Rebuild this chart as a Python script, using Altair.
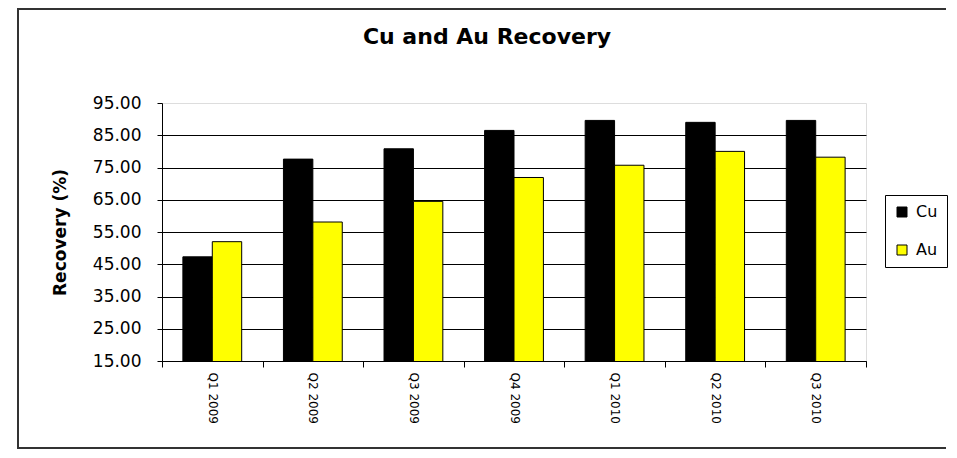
import altair as alt
import pandas as pd

quarters = ["Q1 2009", "Q2 2009", "Q3 2009", "Q4 2009", "Q1 2010", "Q2 2010", "Q3 2010"]
cu_values = [47.3, 77.6, 80.8, 86.5, 89.6, 89.0, 89.6]
au_values = [52.0, 58.1, 64.5, 71.9, 75.7, 80.0, 78.2]
series = ["Cu", "Au"]
series_colors = ["#000000", "#FFFF00"]
y_ticks = [15, 25, 35, 45, 55, 65, 75, 85, 95]

rows = []
for q, c, a in zip(quarters, cu_values, au_values):
    rows.append({"quarter": q, "metal": "Cu", "recovery": c})
    rows.append({"quarter": q, "metal": "Au", "recovery": a})
df = pd.DataFrame(rows)

FONT = "DejaVu Sans"
W, H = 704, 258

bars = alt.Chart(df).mark_bar(stroke="black", strokeWidth=1, clip=True).encode(
    x=alt.X(
        "quarter:N",
        sort=quarters,
        scale=alt.Scale(paddingInner=0, paddingOuter=0),
        axis=alt.Axis(
            title=None, labelAngle=90, labelFont=FONT, labelFontSize=12,
            labelColor="black", tickBand="extent", tickSize=6, tickColor="black",
            domainColor="black", labelPadding=5, grid=False,
        ),
    ),
    xOffset=alt.XOffset("metal:N", sort=series,
                        scale=alt.Scale(paddingInner=0, paddingOuter=0.71)),
    y=alt.Y(
        "recovery:Q",
        scale=alt.Scale(domain=[15, 95], nice=False, zero=False),
        axis=alt.Axis(
            title="Recovery (%)", values=y_ticks, format=".2f",
            labelFont=FONT, labelFontSize=17, labelColor="black",
            tickSize=5, tickColor="black", domainColor="black", labelPadding=16,
            grid=True, gridColor="black",
            gridOpacity={"condition": {"test": "datum.value >= 95", "value": 0}, "value": 1},
            titleFont=FONT, titleFontSize=17, titleFontWeight="bold", titleColor="black",
            titleX=-102, titleY=129, titleBaseline="middle", titleAlign="center",
        ),
    ),
    color=alt.Color(
        "metal:N", sort=series,
        scale=alt.Scale(domain=series, range=series_colors),
        legend=alt.Legend(
            title=None, orient="none", legendX=723, legendY=92,
            symbolType="square", symbolSize=100, symbolStrokeColor="black",
            symbolStrokeWidth=1, labelFont=FONT, labelFontSize=16, labelColor="black",
            rowPadding=22, padding=9, strokeColor="black", fillColor="white",
            labelOffset=6,
        ),
    ),
)

frame_data = alt.Data(values=[{"k": 0}])
frame_left = alt.Chart(frame_data).mark_rule(color="#333333", strokeWidth=2).encode(
    x=alt.value(-144), y=alt.value(-95), y2=alt.value(346)
)
frame_top = alt.Chart(frame_data).mark_rule(color="#333333", strokeWidth=2).encode(
    x=alt.value(-145), x2=alt.value(784), y=alt.value(-94)
)
frame_bottom = alt.Chart(frame_data).mark_rule(color="#333333", strokeWidth=2).encode(
    x=alt.value(-145), x2=alt.value(784), y=alt.value(345)
)

chart = alt.layer(bars, frame_left, frame_top, frame_bottom).properties(
    width=W, height=H,
    title=alt.TitleParams(
        "Cu and Au Recovery", font=FONT, fontSize=22, fontWeight="bold",
        color="black", anchor="middle", dx=-27, offset=0, dy=59, baseline="alphabetic",
    ),
    autosize=alt.AutoSizeParams(type="none"),
    padding={"left": 154, "top": 95, "right": 83, "bottom": 88},
).configure_view(stroke="transparent").configure(background="white")

chart.save("out.html", embed_options={"renderer": "svg", "actions": False})
